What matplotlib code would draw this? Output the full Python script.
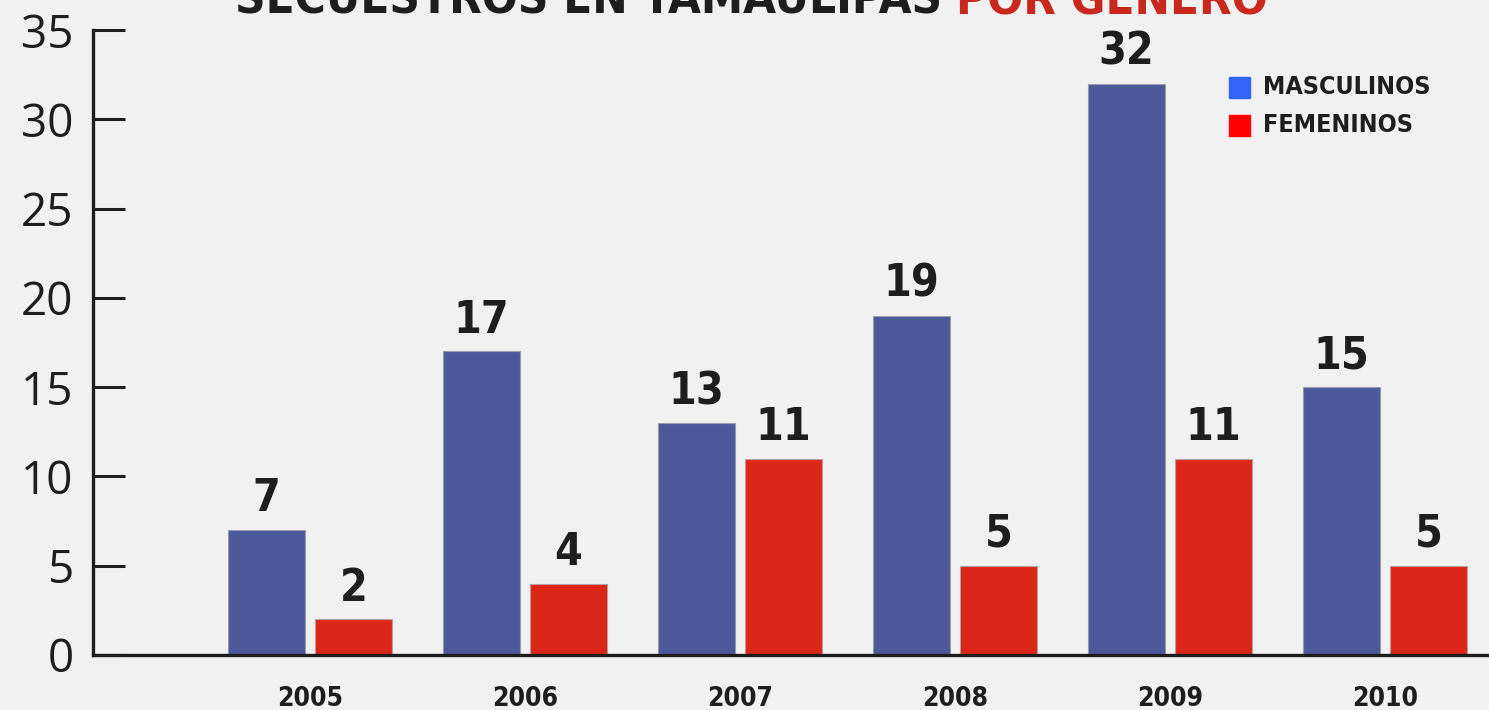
import matplotlib.pyplot as plt
import numpy as np

years = ['2005', '2006', '2007', '2008', '2009', '2010']
masculinos = [7, 17, 13, 19, 32, 15]
femeninos = [2, 4, 11, 5, 11, 5]
yticks = [0, 5, 10, 15, 20, 25, 30, 35]

BG = '#f1f1f1'
INK = '#1e1e1e'
BLUE = '#4d599b'
RED = '#dc2718'
COND = dict(family='DejaVu Sans', fontstretch='condensed', fontweight='bold')

fig = plt.figure(figsize=(14.89, 7.10), dpi=100, facecolor=BG)
ax = fig.add_axes([93 / 1489, 1 - 655 / 710, 1 - 93 / 1489, 625 / 710])
ax.set_facecolor(BG)

x = np.arange(len(years))
w = 0.358
off = 0.202
b1 = ax.bar(x - off, masculinos, w, color=BLUE, edgecolor='#9a9aa8', lw=0.8, zorder=2)
b2 = ax.bar(x + off, femeninos, w, color=RED, edgecolor='#b8a0a0', lw=0.8, zorder=2)

for bars, vals in ((b1, masculinos), (b2, femeninos)):
    for r, v in zip(bars, vals):
        ax.annotate(str(v), xy=(r.get_x() + r.get_width() / 2, v),
                    xytext=(0, 7), textcoords='offset points',
                    ha='center', va='bottom', fontsize=32, color=INK, **COND)

ax.set_xlim(-1.01, 5.484)
ax.set_ylim(0, 35)
ax.set_yticks(yticks)
ax.set_yticklabels([str(t) for t in yticks], fontsize=33, family='Open Sans', color=INK)
ax.set_xticks(x)
ax.set_xticklabels(years, fontsize=19, color=INK, **COND)
ax.tick_params(axis='y', direction='in', length=23, width=2.2, color=INK, pad=14)
ax.tick_params(axis='x', length=0, pad=22)
for spine in ('top', 'right'):
    ax.spines[spine].set_visible(False)
for spine in ('left', 'bottom'):
    ax.spines[spine].set_linewidth(2.4)
    ax.spines[spine].set_color(INK)
    ax.spines[spine].set_zorder(3)

# legend drawn by hand as in the original graphic
for i, (lab, col) in enumerate((('MASCULINOS', '#3366ff'), ('FEMENINOS', '#ff0000'))):
    yy = 1 - (87 + i * 38) / 710
    fig.patches.append(plt.Rectangle((1229 / 1489, yy - 10.5 / 710), 21 / 1489, 21 / 710,
                                     transform=fig.transFigure, color=col, figure=fig))
    fig.text(1263 / 1489, yy, lab, fontsize=18, color=INK, va='center', ha='left', **COND)

# title, mostly cut off at the top edge as in the source image
t1 = fig.text(235 / 1489, 1 - 14 / 710, 'SECUESTROS EN TAMAULIPAS', fontsize=34,
              color=INK, va='baseline', ha='left', **COND)
ax.annotate('POR GÉNERO', xy=(1, 0), xycoords=t1, xytext=(10, 0),
            textcoords='offset points', fontsize=34, color='#c8281e',
            va='bottom', ha='left', annotation_clip=False, **COND)

fig.savefig('out.png', dpi=100, facecolor=BG)
